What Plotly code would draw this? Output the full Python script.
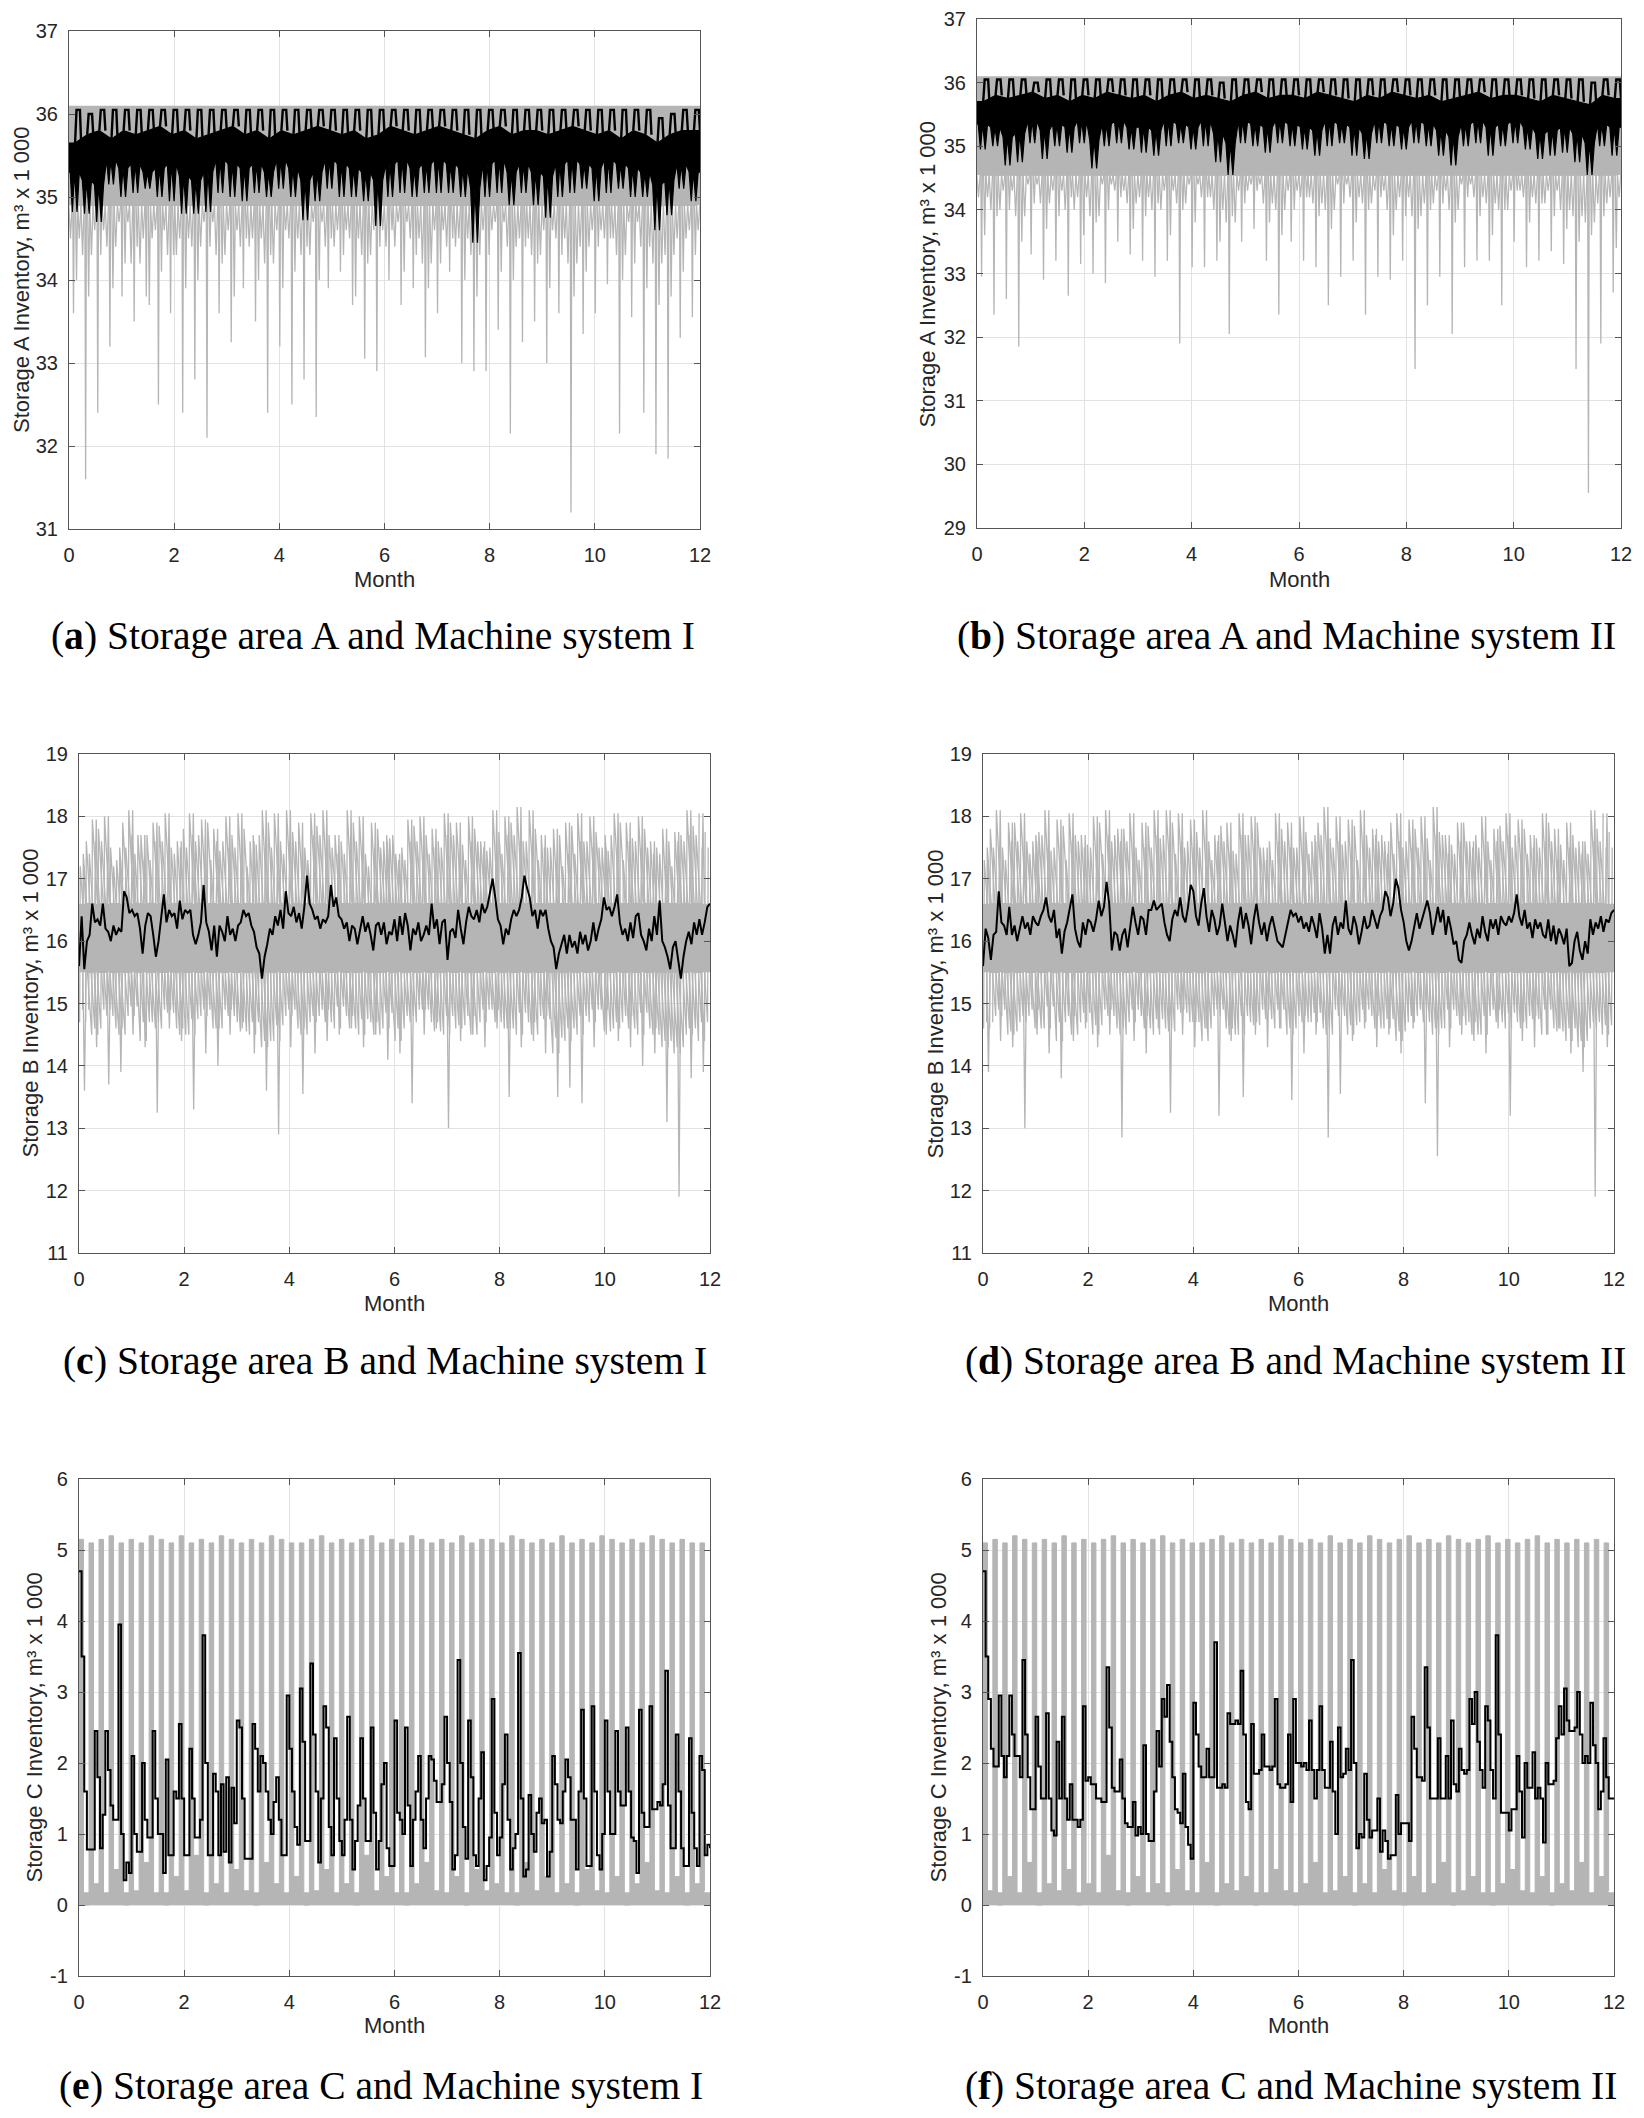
import numpy as np
import plotly.graph_objects as go

W, H = 1644, 2118
OFF = 8  # default page margin of the html body

# ------------------------------------------------------------------ data
month_ticks = [0, 2, 4, 6, 8, 10, 12]
yticks_a = [31, 32, 33, 34, 35, 36, 37]
yticks_b = [29, 30, 31, 32, 33, 34, 35, 36, 37]
yticks_cd = [11, 12, 13, 14, 15, 16, 17, 18, 19]
yticks_ef = [-1, 0, 1, 2, 3, 4, 5, 6]
ytext_ef = ["-1", "0", "1", "2", "3", "4", "5", "6"]

# (a) Storage A / Machine system I : weekly structure of the mean run (black)
peakA = [36.05, 36.0, 36.05, 36.05, 36.05, 36.05, 36.05, 36.05, 36.05, 36.05, 36.05, 36.05, 36.05,
         36.05, 36.05, 36.05, 36.05, 36.05, 36.05, 36.05, 36.05, 36.05, 36.05, 36.05, 36.05, 36.05,
         36.05, 36.05, 36.05, 36.05, 36.05, 36.05, 36.05, 36.05, 36.05, 36.05, 36.05, 36.05, 36.05,
         36.05, 36.05, 36.05, 36.05, 36.05, 36.05, 36.05, 36.05, 36.05, 35.95, 36.0, 36.05, 36.05]
hiA = [35.65, 35.75, 35.8, 35.7, 35.8, 35.75, 35.8, 35.85, 35.75, 35.8, 35.7, 35.75, 35.8, 35.85,
       35.75, 35.8, 35.7, 35.8, 35.75, 35.8, 35.85, 35.8, 35.75, 35.8, 35.7, 35.75, 35.85, 35.8,
       35.75, 35.8, 35.85, 35.8, 35.75, 35.7, 35.8, 35.85, 35.75, 35.8, 35.8, 35.75, 35.8, 35.85,
       35.8, 35.75, 35.8, 35.7, 35.8, 35.75, 35.65, 35.75, 35.8, 35.8]
midA = [35.3, 35.2, 35.15, 35.45, 35.35, 35.4, 35.3, 35.35, 35.4, 35.25, 35.2, 35.3, 35.45, 35.4,
        35.35, 35.4, 35.3, 35.45, 35.35, 35.2, 35.3, 35.45, 35.4, 35.35, 35.3, 35.2, 35.4, 35.45,
        35.35, 35.4, 35.45, 35.4, 35.35, 35.1, 35.4, 35.45, 35.3, 35.4, 35.3, 35.25, 35.4, 35.45,
        35.4, 35.35, 35.45, 35.4, 35.35, 35.3, 35.15, 35.2, 35.4, 35.3]
troughA = [34.82, 34.8, 34.7, 35.15, 35.0, 35.05, 35.1, 35.0, 34.95, 34.8, 34.8, 34.82, 35.05, 35.0,
           34.95, 35.05, 35.0, 35.1, 35.0, 34.72, 34.95, 35.1, 35.0, 35.0, 34.95, 34.65, 35.0, 35.05,
           35.0, 35.05, 35.05, 35.05, 35.0, 34.45, 35.0, 35.05, 34.9, 35.05, 34.9, 34.75, 35.0, 35.05,
           35.1, 34.95, 35.05, 35.1, 35.0, 35.0, 34.6, 34.78, 35.1, 34.95]
# (a) simulated runs (grey): dense band and weekly downward spikes
bandA = [34.9, 36.1]
spikeA1 = [33.6, 31.6, 32.4, 33.2, 33.8, 33.5, 33.8, 32.5, 33.6, 32.4, 32.8, 32.1, 33.6, 33.25,
           33.9, 33.5, 32.4, 33.2, 32.5, 32.8, 32.35, 33.9, 34.1, 33.7, 33.05, 32.9, 34.0, 33.7,
           33.9, 33.07, 33.6, 34.1, 33.0, 32.9, 32.9, 33.4, 32.15, 33.25, 33.5, 33.0, 33.6, 31.2,
           33.35, 33.6, 33.95, 32.15, 33.55, 32.4, 31.9, 31.85, 33.3, 33.55]
spikeA2 = [34.0, 33.8, 34.3, 33.9, 34.2, 34.4, 33.7, 34.1, 34.3, 33.9, 34.0, 34.4, 34.2, 33.8, 34.5,
           34.0, 34.3, 33.9, 34.1, 34.4, 34.0, 34.5, 34.3, 33.8, 34.2, 34.4, 34.6, 34.1, 34.3, 33.9,
           34.2, 34.5, 34.0, 33.8, 34.3, 34.1, 34.0, 34.4, 34.2, 33.9, 34.3, 33.8, 34.1, 34.4, 34.5,
           34.0, 34.2, 33.9, 33.7, 33.8, 34.1, 34.3]
spikeA3 = [34.5, 34.3, 34.6, 34.4, 34.7, 34.2, 34.5, 34.6, 34.3, 34.5, 34.4, 34.7, 34.3, 34.6, 34.4,
           34.5, 34.2, 34.6, 34.5, 34.3, 34.7, 34.4, 34.6, 34.5, 34.3, 34.6, 34.4, 34.7, 34.5, 34.2,
           34.6, 34.4, 34.5, 34.3, 34.6, 34.7, 34.4, 34.5, 34.3, 34.6, 34.5, 34.2, 34.4, 34.6, 34.5,
           34.3, 34.7, 34.4, 34.2, 34.3, 34.5, 34.6]

# (b) Storage A / Machine system II
peakB = [36.05, 36.05, 36.05, 36.05, 36.0, 36.05, 36.05, 36.05, 36.05, 36.05, 36.05, 36.05, 36.05,
         36.05, 36.05, 36.05, 36.05, 36.05, 36.05, 36.0, 36.05, 36.05, 36.05, 36.05, 36.05, 36.05,
         36.05, 36.05, 36.05, 36.05, 36.05, 36.05, 36.05, 36.05, 36.05, 36.05, 36.05, 36.05, 36.05,
         36.05, 36.05, 36.05, 36.05, 36.05, 36.05, 36.05, 36.05, 36.05, 36.05, 36.0, 36.05, 36.05]
hiB = [35.7, 35.8, 35.75, 35.8, 35.85, 35.75, 35.8, 35.7, 35.8, 35.75, 35.85, 35.8, 35.75, 35.8,
       35.7, 35.8, 35.85, 35.75, 35.8, 35.75, 35.7, 35.8, 35.85, 35.75, 35.8, 35.8, 35.75, 35.85,
       35.8, 35.75, 35.7, 35.8, 35.75, 35.85, 35.8, 35.75, 35.8, 35.7, 35.75, 35.8, 35.85, 35.75,
       35.8, 35.8, 35.75, 35.7, 35.8, 35.75, 35.7, 35.65, 35.8, 35.75]
midB = [35.35, 35.3, 35.15, 35.2, 35.4, 35.25, 35.35, 35.3, 35.4, 35.1, 35.35, 35.4, 35.3, 35.3,
        35.25, 35.4, 35.35, 35.3, 35.4, 35.2, 35.05, 35.4, 35.35, 35.3, 35.4, 35.35, 35.3, 35.25,
        35.4, 35.35, 35.3, 35.2, 35.4, 35.35, 35.3, 35.4, 35.35, 35.25, 35.15, 35.35, 35.4, 35.3,
        35.35, 35.4, 35.3, 35.2, 35.25, 35.3, 35.2, 35.05, 35.35, 35.3]
troughB = [34.95, 35.0, 34.7, 34.75, 35.05, 34.8, 35.0, 34.9, 35.05, 34.65, 35.0, 35.05, 34.95, 34.9,
           34.85, 35.0, 35.05, 34.95, 35.0, 34.75, 34.55, 35.05, 35.0, 34.9, 35.05, 35.0, 34.95, 34.85,
           35.0, 35.05, 34.85, 34.8, 35.05, 35.0, 34.95, 35.05, 35.0, 34.85, 34.7, 35.0, 35.05, 34.85,
           35.0, 35.05, 34.95, 34.8, 34.85, 34.9, 34.75, 34.55, 35.0, 34.85]
bandB = [34.55, 36.1]
spikeB1 = [32.95, 32.35, 32.6, 31.85, 33.3, 32.9, 33.2, 32.65, 33.15, 33.0, 32.85, 33.5, 33.3, 33.2,
           32.95, 33.2, 31.9, 33.1, 33.1, 33.2, 32.05, 33.5, 33.7, 33.2, 32.35, 33.5, 33.2, 33.1,
           32.5, 32.95, 33.2, 32.35, 32.95, 32.9, 33.2, 31.5, 32.5, 32.95, 32.05, 33.1, 33.2, 33.2,
           32.5, 33.5, 33.1, 33.2, 33.35, 33.15, 31.5, 29.55, 31.9, 32.7]
spikeB2 = [33.6, 33.9, 34.0, 33.5, 34.1, 33.7, 33.9, 34.2, 33.6, 33.8, 34.0, 34.2, 33.7, 33.9, 34.1,
           33.6, 34.0, 33.8, 34.2, 33.5, 33.9, 34.1, 34.3, 33.8, 33.6, 34.0, 34.2, 33.9, 33.7, 34.1,
           33.8, 34.0, 34.2, 33.6, 33.9, 33.7, 34.0, 34.1, 33.8, 34.2, 33.9, 33.6, 34.0, 34.3, 33.8,
           34.1, 33.9, 33.7, 33.5, 33.6, 33.9, 33.4]
spikeB3 = [34.2, 34.0, 34.3, 33.9, 34.4, 34.1, 34.3, 34.0, 34.2, 33.9, 34.4, 34.3, 34.1, 34.2, 34.0,
           34.3, 34.1, 34.4, 34.2, 34.0, 33.8, 34.3, 34.4, 34.1, 34.0, 34.3, 34.2, 34.1, 34.0, 34.4,
           34.2, 34.1, 34.3, 34.0, 34.2, 33.9, 34.1, 34.3, 34.0, 34.4, 34.2, 34.1, 34.0, 34.3, 34.2,
           34.1, 34.3, 34.0, 33.9, 33.8, 34.1, 34.2]

# (c) Storage B / Machine system I  (black = mean run, sampled every 0.05 month)
blackC = [15.6, 16.4, 15.55, 16.0, 16.1, 16.6, 16.3, 16.35, 16.25, 16.6, 16.2, 16.15, 16.0, 16.25,
          16.1, 16.2, 16.15, 16.8, 16.7, 16.45, 16.5, 16.4, 16.45, 16.2, 15.8, 16.25, 16.45, 16.4,
          16.1, 15.75, 16.0, 16.35, 16.75, 16.3, 16.5, 16.4, 16.45, 16.2, 16.65, 16.35, 16.5, 16.45,
          16.5, 16.1, 15.95, 16.1, 16.3, 16.9, 16.3, 16.15, 15.85, 16.25, 15.75, 16.25, 16.15, 16.0,
          16.4, 16.1, 16.2, 16.0, 16.25, 16.3, 16.5, 16.4, 16.45, 16.25, 16.15, 15.9, 15.8, 15.4,
          15.75, 15.95, 16.2, 16.1, 16.4, 16.25, 16.5, 16.2, 16.8, 16.45, 16.4, 16.55, 16.3, 16.45,
          16.2, 16.55, 17.05, 16.6, 16.5, 16.35, 16.4, 16.2, 16.35, 16.3, 16.4, 16.9, 16.55, 16.7,
          16.4, 16.35, 16.2, 16.3, 16.0, 16.25, 16.2, 15.95, 16.2, 16.4, 16.15, 16.3, 16.1, 15.85,
          16.25, 16.3, 16.1, 16.3, 15.95, 16.15, 16.1, 16.35, 16.0, 16.4, 16.1, 16.45, 16.25, 15.85,
          16.2, 16.1, 16.3, 16.0, 16.1, 16.25, 16.1, 16.6, 16.2, 16.35, 15.95, 16.3, 16.35, 15.7,
          16.15, 16.2, 16.05, 16.5, 16.2, 15.95, 16.3, 16.55, 16.4, 16.35, 16.5, 16.3, 16.6, 16.45,
          16.55, 16.8, 17.0, 16.7, 16.35, 16.25, 15.95, 16.2, 16.1, 16.35, 16.5, 16.4, 16.5, 16.7,
          17.05, 16.85, 16.7, 16.4, 16.5, 16.2, 16.5, 16.4, 16.5, 16.2, 16.0, 15.9, 15.55, 15.8,
          15.95, 16.1, 15.8, 16.1, 15.9, 16.0, 15.8, 16.15, 15.95, 16.1, 15.85, 16.0, 16.3, 16.0,
          16.2, 16.35, 16.7, 16.5, 16.55, 16.4, 16.55, 16.75, 16.3, 16.1, 16.2, 16.0, 16.3, 16.05,
          16.4, 16.45, 16.1, 16.0, 15.85, 16.2, 16.0, 16.4, 16.1, 16.65, 16.0, 15.9, 15.75, 15.55,
          15.9, 16.0, 15.7, 15.4, 15.75, 16.0, 16.15, 15.95, 16.3, 16.1, 16.35, 16.1, 16.3, 16.55, 16.6]
bandC = [15.5, 16.6]
upC1 = [17.2, 17.95, 18.0, 17.3, 18.1, 17.7, 17.9, 18.05, 17.6, 18.05, 17.95, 17.8, 18.0, 18.05,
        17.6, 18.1, 18.05, 18.1, 17.9, 18.05, 18.1, 17.7, 18.1, 18.0, 17.9, 17.6, 17.4, 17.95, 18.0,
        17.8, 18.05, 17.9, 18.0, 17.6, 18.1, 18.0, 18.15, 18.1, 17.7, 17.8, 17.9, 18.05, 18.0, 17.5,
        18.05, 17.9, 18.0, 17.6, 17.8, 17.75, 18.1, 18.05]
upC2 = [17.4, 17.6, 17.2, 17.5, 17.7, 17.3, 17.6, 17.4, 17.5, 17.7, 17.3, 17.6, 17.5, 17.2, 17.7,
        17.5, 17.4, 17.6, 17.3, 17.7, 17.5, 17.4, 17.6, 17.2, 17.5, 17.7, 17.3, 17.6, 17.4, 17.5,
        17.7, 17.3, 17.6, 17.5, 17.4, 17.7, 17.6, 17.3, 17.5, 17.2, 17.4, 17.6, 17.5, 17.7, 17.3,
        17.6, 17.5, 17.4, 17.2, 17.6, 17.7, 17.5]
upC3 = [17.6, 17.8, 17.5, 17.9, 17.4, 17.7, 17.85, 17.5, 17.8, 17.6, 17.9, 17.45, 17.7, 17.8, 17.55,
        17.9, 17.6, 17.75, 17.5, 17.85, 17.7, 17.6, 17.9, 17.4, 17.8, 17.65, 17.5, 17.85, 17.7, 17.6,
        17.9, 17.55, 17.8, 17.45, 17.75, 17.9, 17.6, 17.8, 17.5, 17.7, 17.85, 17.6, 17.75, 17.45,
        17.9, 17.65, 17.8, 17.5, 17.6, 17.7, 17.85, 17.75]
dnC1 = [13.6, 14.3, 13.7, 13.9, 14.5, 14.3, 13.25, 14.6, 14.4, 13.3, 14.2, 14.0, 14.5, 14.6, 14.2,
        13.6, 12.9, 14.3, 13.55, 14.2, 14.4, 14.5, 14.6, 14.3, 14.5, 14.1, 14.2, 13.4, 14.5, 14.6,
        13.0, 14.4, 14.5, 14.3, 14.6, 13.5, 14.3, 14.4, 14.2, 13.5, 13.65, 13.4, 14.3, 14.5, 14.4,
        14.3, 14.0, 14.2, 13.1, 11.9, 13.8, 13.9]
dnC2 = [14.7, 14.5, 14.9, 14.6, 14.8, 14.4, 14.7, 14.9, 14.6, 14.5, 14.8, 14.6, 14.9, 14.7, 14.5,
        14.3, 14.4, 14.8, 14.6, 14.7, 14.9, 14.6, 14.8, 14.5, 14.7, 14.6, 14.4, 14.8, 14.9, 14.7,
        14.5, 14.6, 14.8, 14.7, 14.9, 14.6, 14.5, 14.7, 14.8, 14.2, 14.4, 14.5, 14.7, 14.9, 14.6,
        14.8, 14.5, 14.6, 14.3, 14.2, 14.5, 14.4]
dnC3 = [14.9, 14.6, 14.8, 14.5, 14.95, 14.7, 14.6, 14.85, 14.5, 14.75, 14.9, 14.6, 14.8, 14.55, 14.7,
        14.4, 14.65, 14.9, 14.5, 14.8, 14.7, 14.95, 14.6, 14.75, 14.5, 14.85, 14.6, 14.7, 14.9, 14.55,
        14.8, 14.65, 14.5, 14.9, 14.7, 14.6, 14.85, 14.5, 14.75, 14.45, 14.6, 14.8, 14.9, 14.55, 14.7,
        14.6, 14.85, 14.5, 14.4, 14.3, 14.6, 14.7]

# (d) Storage B / Machine system II
blackD = [15.6, 16.2, 16.05, 15.7, 16.1, 16.15, 16.8, 16.3, 16.25, 16.1, 16.55, 16.1, 16.25, 16.0,
          16.2, 16.4, 16.2, 16.3, 16.1, 16.4, 16.3, 16.25, 16.4, 16.5, 16.7, 16.4, 16.3, 16.5, 16.05,
          16.2, 15.8, 16.15, 16.3, 16.5, 16.75, 16.2, 16.0, 15.9, 16.3, 16.1, 16.35, 16.3, 16.15,
          16.35, 16.65, 16.4, 16.55, 16.95, 16.6, 15.85, 16.15, 16.1, 15.85, 16.1, 16.2, 15.9, 16.2,
          16.55, 16.3, 16.1, 16.4, 16.35, 16.1, 16.5, 16.5, 16.65, 16.5, 16.55, 16.6, 16.3, 16.1,
          16.0, 16.35, 16.5, 16.4, 16.7, 16.4, 16.3, 16.55, 16.9, 16.8, 16.4, 16.25, 16.6, 16.85,
          16.4, 16.15, 16.5, 16.35, 16.1, 16.25, 16.6, 16.3, 16.0, 16.25, 16.1, 15.9, 16.3, 16.55,
          16.2, 16.45, 16.25, 15.95, 16.35, 16.6, 16.3, 16.1, 16.3, 16.0, 16.25, 16.4, 16.2, 16.0,
          15.95, 15.9, 16.1, 16.3, 16.5, 16.4, 16.45, 16.3, 16.4, 16.2, 16.3, 16.15, 16.4, 16.25,
          16.05, 16.45, 16.2, 15.8, 16.1, 15.8, 16.25, 16.4, 16.1, 16.3, 16.2, 16.65, 16.2, 16.1,
          16.4, 16.25, 15.95, 16.15, 16.4, 16.2, 16.25, 16.5, 16.35, 16.2, 16.4, 16.5, 16.8, 16.7,
          16.4, 16.6, 17.0, 16.85, 16.5, 16.3, 16.0, 15.85, 16.0, 16.2, 16.45, 16.2, 16.35, 16.5,
          16.65, 16.45, 16.1, 16.3, 16.55, 16.3, 16.5, 16.1, 16.4, 16.2, 15.95, 16.0, 15.7, 15.65,
          16.0, 16.1, 16.3, 16.1, 15.95, 16.2, 16.05, 16.4, 16.15, 16.0, 16.35, 16.2, 16.35, 16.1,
          16.4, 16.3, 16.25, 16.4, 16.3, 16.45, 16.75, 16.4, 16.25, 16.5, 16.2, 16.3, 16.05, 16.35,
          16.2, 16.3, 16.1, 16.05, 16.35, 16.0, 16.25, 15.95, 16.2, 16.1, 15.95, 16.2, 15.6, 15.65,
          16.0, 16.15, 15.85, 15.7, 16.0, 15.8, 16.35, 16.1, 16.3, 16.2, 16.4, 16.15, 16.35, 16.3,
          16.45, 16.5]
bandD = [15.5, 16.6]
upD1 = [17.3, 18.1, 17.9, 18.05, 17.6, 18.1, 17.95, 18.05, 17.7, 18.0, 18.1, 17.8, 18.05, 17.9,
        18.1, 18.1, 18.05, 17.95, 18.1, 17.7, 17.9, 18.05, 18.0, 17.5, 18.05, 17.9, 18.0, 17.6,
        18.15, 18.0, 17.95, 18.1, 17.8, 17.6, 18.05, 17.95, 18.0, 18.15, 17.7, 17.9, 17.6, 18.0,
        17.8, 18.05, 17.95, 17.7, 18.05, 17.8, 17.9, 17.6, 18.1, 18.05]
upD2 = [17.5, 17.3, 17.6, 17.4, 17.7, 17.5, 17.3, 17.6, 17.5, 17.4, 17.7, 17.6, 17.3, 17.5, 17.7,
        17.4, 17.6, 17.5, 17.3, 17.6, 17.4, 17.7, 17.5, 17.3, 17.6, 17.5, 17.4, 17.7, 17.5, 17.6,
        17.3, 17.5, 17.7, 17.4, 17.6, 17.5, 17.3, 17.7, 17.4, 17.6, 17.5, 17.3, 17.6, 17.7, 17.4,
        17.5, 17.6, 17.3, 17.5, 17.4, 17.6, 17.5]
upD3 = [17.8, 17.5, 17.9, 17.6, 17.75, 17.45, 17.85, 17.7, 17.55, 17.9, 17.6, 17.8, 17.5, 17.85,
        17.65, 17.9, 17.5, 17.75, 17.6, 17.85, 17.45, 17.7, 17.9, 17.6, 17.8, 17.5, 17.75, 17.9,
        17.65, 17.55, 17.85, 17.7, 17.6, 17.9, 17.5, 17.8, 17.65, 17.75, 17.55, 17.9, 17.7, 17.6,
        17.85, 17.5, 17.8, 17.65, 17.9, 17.55, 17.7, 17.6, 17.8, 17.75]
dnD1 = [13.9, 14.4, 14.3, 13.0, 14.5, 14.2, 13.8, 14.4, 14.6, 14.3, 14.5, 12.85, 14.4, 14.2, 14.6,
        13.25, 14.5, 14.3, 14.6, 13.2, 14.4, 13.5, 14.5, 14.3, 14.6, 13.45, 14.2, 14.5, 12.85, 13.55,
        14.4, 14.6, 14.3, 14.5, 14.2, 14.6, 13.4, 12.55, 14.3, 14.5, 14.4, 14.2, 14.6, 13.2, 14.4,
        14.3, 14.5, 14.6, 14.2, 13.9, 11.9, 14.3]
dnD2 = [14.6, 14.8, 14.5, 14.7, 14.9, 14.6, 14.4, 14.8, 14.7, 14.5, 14.9, 14.6, 14.7, 14.8, 14.5,
        14.6, 14.9, 14.7, 14.4, 14.8, 14.6, 14.5, 14.7, 14.9, 14.6, 14.5, 14.8, 14.7, 14.6, 14.9,
        14.5, 14.7, 14.8, 14.6, 14.4, 14.7, 14.9, 14.5, 14.6, 14.8, 14.7, 14.5, 14.9, 14.6, 14.7,
        14.8, 14.5, 14.6, 14.4, 14.3, 14.6, 14.5]
dnD3 = [14.7, 14.9, 14.55, 14.8, 14.6, 14.95, 14.7, 14.5, 14.85, 14.65, 14.8, 14.5, 14.9, 14.6, 14.75,
        14.55, 14.85, 14.7, 14.6, 14.9, 14.5, 14.8, 14.65, 14.75, 14.9, 14.6, 14.7, 14.85, 14.5, 14.8,
        14.65, 14.9, 14.6, 14.75, 14.55, 14.8, 14.7, 14.6, 14.9, 14.65, 14.5, 14.8, 14.7, 14.85, 14.6,
        14.75, 14.9, 14.55, 14.6, 14.4, 14.7, 14.65]

# (e) Storage C / Machine system I  (black sampled every 0.05 month)
blackE = [4.7, 3.5, 1.6, 0.78, 0.78, 0.78, 2.45, 1.8, 0.8, 1.27, 2.45, 1.9, 1.4, 1.2, 1.2, 3.95,
          1.0, 0.35, 0.6, 0.45, 2.1, 1.0, 0.75, 0.75, 2.0, 1.2, 0.95, 0.95, 2.45, 1.5, 1.0, 1.0,
          0.45, 2.05, 0.7, 0.7, 1.6, 1.5, 2.55, 1.5, 0.7, 0.7, 2.2, 1.5, 0.95, 0.95, 1.2, 3.8, 2.0,
          0.7, 0.7, 1.85, 1.6, 0.7, 1.7, 0.75, 1.8, 0.6, 1.65, 1.15, 2.6, 2.5, 1.5, 0.65, 0.65,
          0.65, 2.55, 2.2, 1.6, 2.1, 2.0, 1.6, 1.2, 1.0, 1.45, 1.8, 1.2, 0.7, 0.7, 2.95, 2.2, 1.6,
          1.1, 0.85, 3.05, 2.3, 0.9, 0.9, 3.4, 2.4, 1.6, 0.6, 1.5, 2.8, 2.5, 1.1, 0.7, 2.35, 1.5,
          0.9, 0.7, 1.2, 2.65, 1.2, 0.5, 0.9, 1.4, 2.35, 1.5, 0.9, 0.9, 2.5, 1.3, 0.5, 0.9, 1.7,
          2.0, 0.8, 0.55, 0.55, 2.6, 1.3, 1.2, 1.0, 2.5, 1.4, 0.55, 1.2, 1.6, 2.1, 1.2, 0.8, 1.5,
          2.1, 2.05, 1.75, 1.45, 1.45, 1.7, 2.65, 2.0, 1.45, 0.5, 0.7, 3.45, 2.0, 1.1, 0.65, 2.6,
          1.8, 0.7, 0.55, 1.5, 2.15, 0.35, 0.55, 0.95, 2.9, 1.3, 0.7, 0.95, 1.7, 2.4, 1.2, 0.5,
          0.8, 1.0, 3.55, 1.5, 0.4, 0.5, 1.55, 1.0, 0.75, 1.3, 1.5, 1.15, 1.2, 0.4, 0.75, 2.1, 1.7,
          1.2, 1.15, 1.6, 2.05, 1.8, 1.2, 1.2, 0.5, 1.6, 2.75, 1.5, 0.55, 0.55, 2.8, 1.6, 0.7, 0.5,
          1.0, 2.6, 1.6, 1.0, 1.0, 2.45, 1.6, 1.4, 1.4, 2.5, 1.6, 0.95, 0.9, 0.45, 2.75, 1.3, 1.1,
          1.1, 2.8, 1.35, 1.35, 1.45, 1.4, 1.7, 3.3, 1.4, 0.8, 0.8, 2.4, 1.6, 0.8, 0.55, 0.55, 2.35,
          1.3, 0.8, 0.55, 2.1, 1.9, 0.7, 0.85, 0.8]
bandE = [0.0, 0.18]
hiE = [5.15, 5.1, 5.15, 5.2, 5.1, 5.15, 5.1, 5.2, 5.15, 5.1, 5.2, 5.1, 5.15, 5.1, 5.2, 5.15, 5.1,
       5.15, 5.1, 5.2, 5.15, 5.1, 5.1, 5.15, 5.2, 5.1, 5.15, 5.1, 5.15, 5.2, 5.1, 5.15, 5.1, 5.2,
       5.15, 5.1, 5.15, 5.1, 5.2, 5.1, 5.15, 5.15, 5.1, 5.2, 5.15, 5.1, 5.15, 5.1, 5.2, 5.1, 5.15,
       5.1, 5.2, 5.15, 5.1, 5.15, 5.1, 5.2, 5.15, 5.1, 5.15, 5.1, 5.1]
loE = [0.0, 0.3, 0.1, 0.5, 0.0, 0.2, 0.6, 0.1, 0.0, 0.4, 0.2, 0.7, 0.0, 0.3, 0.1, 0.5, 0.2, 0.0,
       0.6, 0.3, 0.1, 0.4, 0.0, 0.2, 0.5, 0.1, 0.3, 0.0, 0.7, 0.2, 0.4, 0.1, 0.0, 0.3, 0.6, 0.2,
       0.1, 0.4, 0.0, 0.5, 0.2, 0.3, 0.1, 0.0, 0.6, 0.2, 0.4, 0.1, 0.3, 0.0, 0.5, 0.2, 0.1, 0.4,
       0.0, 0.3, 0.6, 0.2, 0.1, 0.4, 0.0, 0.3, 0.2]

# (f) Storage C / Machine system II
blackF = [4.7, 3.5, 2.9, 2.2, 1.95, 1.95, 2.95, 2.1, 1.8, 2.1, 2.95, 2.4, 2.1, 2.1, 1.8, 3.45, 2.4,
          1.8, 1.35, 1.35, 2.65, 1.95, 1.5, 1.5, 2.7, 1.5, 1.05, 0.98, 2.3, 1.5, 2.65, 1.5, 1.2, 1.7,
          1.2, 1.2, 1.1, 1.2, 2.8, 1.75, 1.8, 1.7, 1.7, 1.5, 1.5, 1.45, 1.45, 3.35, 2.5, 1.65, 1.6,
          1.6, 2.05, 1.5, 1.15, 1.1, 1.1, 1.45, 0.98, 1.1, 1.0, 2.25, 1.0, 0.9, 0.9, 1.6, 2.45,
          1.95, 2.9, 2.65, 3.1, 2.3, 1.8, 1.35, 1.3, 1.15, 1.85, 1.1, 0.85, 0.65, 2.85, 2.4, 1.95,
          1.8, 1.8, 2.2, 1.8, 1.8, 3.7, 1.65, 1.65, 1.7, 1.65, 2.7, 2.55, 2.55, 2.6, 2.55, 3.3, 2.4,
          1.45, 1.35, 2.55, 1.85, 1.85, 1.9, 2.4, 1.95, 1.95, 1.9, 1.95, 2.9, 1.7, 1.65, 1.65, 1.7,
          2.4, 1.45, 2.9, 2.0, 2.0, 1.95, 2.0, 1.9, 2.6, 1.9, 1.5, 1.9, 2.8, 1.9, 1.65, 1.65, 2.3,
          1.6, 1.0, 2.5, 1.8, 1.85, 2.2, 1.9, 3.45, 2.0, 0.8, 1.0, 0.95, 1.85, 1.2, 0.95, 1.05,
          1.05, 1.5, 0.75, 1.05, 0.9, 0.65, 0.7, 0.7, 1.55, 1.0, 1.15, 1.15, 1.15, 0.9, 2.65, 2.2,
          1.8, 1.8, 1.75, 3.35, 2.5, 1.5, 1.5, 1.5, 2.35, 1.5, 1.5, 2.1, 1.5, 2.6, 1.7, 1.6, 2.2,
          1.9, 1.85, 1.9, 2.9, 2.55, 3.0, 2.3, 1.9, 1.65, 2.8, 2.6, 1.9, 1.5, 3.8, 2.4, 1.3, 1.3,
          1.3, 1.05, 1.35, 1.35, 2.1, 1.6, 0.95, 2.0, 1.65, 1.65, 2.15, 1.5, 1.65, 1.5, 0.88, 2.0,
          1.7, 1.7, 1.75, 2.35, 2.8, 2.4, 3.05, 2.6, 2.45, 2.45, 2.5, 3.0, 2.4, 2.0, 2.1, 2.0, 2.85,
          2.25, 2.0, 1.35, 1.6, 2.35, 1.8, 1.5, 1.5, 1.5]
bandF = [0.0, 0.18]
hiF = [5.1, 5.15, 5.1, 5.2, 5.15, 5.1, 5.15, 5.1, 5.2, 5.1, 5.15, 5.1, 5.15, 5.2, 5.1, 5.15, 5.1,
       5.15, 5.2, 5.1, 5.15, 5.1, 5.1, 5.15, 5.2, 5.1, 5.15, 5.1, 5.15, 5.1, 5.2, 5.15, 5.1, 5.15,
       5.1, 5.2, 5.1, 5.15, 5.1, 5.2, 5.15, 5.1, 5.15, 5.2, 5.1, 5.15, 5.1, 5.2, 5.15, 5.1, 5.15,
       5.2, 5.1, 5.15, 5.1, 5.15, 5.2, 5.1, 5.15, 5.1, 5.15, 5.1, 5.15, 5.1]
loF = [0.2, 0.0, 0.4, 0.1, 0.6, 0.0, 0.3, 0.2, 0.5, 0.0, 0.3, 0.1, 0.7, 0.2, 0.0, 0.4, 0.1, 0.3,
       0.0, 0.5, 0.2, 0.1, 0.6, 0.0, 0.3, 0.2, 0.4, 0.0, 0.1, 0.5, 0.2, 0.0, 0.3, 0.6, 0.1, 0.2,
       0.4, 0.0, 0.3, 0.1, 0.5, 0.2, 0.0, 0.4, 0.1, 0.3, 0.6, 0.0, 0.2, 0.4, 0.1, 0.0, 0.3, 0.5,
       0.2, 0.1, 0.4, 0.0, 0.3, 0.2, 0.6, 0.1, 0.4, 0.2]

# captions: (letter, rest of text)
captions = [("a", ") Storage area A and Machine system I"),
            ("b", ") Storage area A and Machine system II"),
            ("c", ") Storage area B and Machine system I"),
            ("d", ") Storage area B and Machine system II"),
            ("e", ") Storage area C and Machine system I"),
            ("f", ") Storage area C and Machine system II")]
ytitles = ["Storage A Inventory, m³ x 1 000", "Storage A Inventory, m³ x 1 000",
           "Storage B Inventory, m³ x 1 000", "Storage B Inventory, m³ x 1 000",
           "Storage C Inventory, m³ x 1 000", "Storage C Inventory, m³ x 1 000"]

# ------------------------------------------------------------------ styling
GREY = "#b5b5b5"
BLACK = "#000000"
FRAME = "#555555"
TXT = "#262626"
GRID = "#e2e2e2"
SANS = "Liberation Sans, Arial, sans-serif"
SERIF = "Liberation Serif, Times New Roman, serif"

fig = go.Figure()


def black_fill(mid, hi, trough):
    """polygon of the dense part of the mean run: upper edge hi, ragged lower edge"""
    n = len(mid)
    wk = 12.0 / n
    tx, ty = [0.0], [hi[0]]
    bx, by = [0.0], [mid[0]]
    for i in range(n):
        tx += [(i + 0.5) * wk]
        ty += [hi[i]]
        bx += [(i + 0.1) * wk, (i + 0.28) * wk, (i + 0.45) * wk, (i + 0.66) * wk, (i + 0.85) * wk]
        by += [mid[i], trough[i], mid[i], trough[i], mid[i]]
    tx.append(12.0)
    ty.append(hi[-1])
    bx.append(12.0)
    by.append(mid[-1])
    return tx + bx[::-1] + [tx[0]], ty + by[::-1] + [ty[0]]


def arches(hi, peak):
    n = len(hi)
    wk = 12.0 / n
    xs, ys = [], []
    for i, (h, p) in enumerate(zip(hi, peak)):
        xs += [(i + 0.5) * wk, (i + 0.62) * wk, (i + 0.9) * wk, (i + 1.0) * wk, None]
        ys += [h, p, p, h, None]
    return xs, ys


def spikes(vals, base, phase, half):
    n = len(vals)
    wk = 12.0 / n
    xs, ys = [], []
    for i, v in enumerate(vals):
        c = (i + phase) * wk
        xs += [c - half, c, c + half]
        ys += [base, v, base]
    return xs, ys


def saw(his, los, phase):
    n = len(his)
    wk = 12.0 / n
    xs, ys = [], []
    for i, (h, l) in enumerate(zip(his, los)):
        c = (i + phase) * wk
        xs += [c, c + 0.012]
        ys += [l, h]
    return xs, ys


def bars(his, los, width, offset):
    n = len(his)
    st = 12.0 / n
    xs, ys = [], []
    for i, (h, l) in enumerate(zip(his, los)):
        s = i * st + offset
        xs += [s, s + width]
        ys += [h, l]
    return xs, ys


def add(tr, k):
    ax = "" if k == 1 else str(k)
    tr.update(xaxis="x" + ax, yaxis="y" + ax, showlegend=False, hoverinfo="skip")
    fig.add_trace(tr)


def band(b, k):
    add(go.Scatter(x=[0, 12, 12, 0, 0], y=[b[0], b[0], b[1], b[1], b[0]], mode="lines",
                   fill="toself", fillcolor=GREY, line=dict(width=0, color=GREY)), k)


def line(x, y, k, color, width, shape="linear"):
    add(go.Scatter(x=x, y=y, mode="lines", line=dict(color=color, width=width, shape=shape),
                   connectgaps=False), k)


def black_band(mid, hi, trough, peak, k):
    fx, fy = black_fill(mid, hi, trough)
    add(go.Scatter(x=fx, y=fy, mode="lines", fill="toself", fillcolor=BLACK,
                   line=dict(color=BLACK, width=1.2)), k)
    line(*arches(hi, peak), k, BLACK, 2.4)


# (a)
band(bandA, 1)
line(*spikes(spikeA3, bandA[0], 0.12, 0.03), 1, GREY, 1.3)
line(*spikes(spikeA2, bandA[0], 0.62, 0.02), 1, GREY, 1.3)
line(*spikes(spikeA3, bandA[0], 0.85, 0.03), 1, GREY, 1.3)
line(*spikes(spikeA1, bandA[0], 0.37, 0.014), 1, GREY, 1.3)
black_band(midA, hiA, troughA, peakA, 1)
# (b)
band(bandB, 2)
line(*spikes(spikeB3, bandB[0], 0.12, 0.03), 2, GREY, 1.3)
line(*spikes(spikeB2, bandB[0], 0.62, 0.02), 2, GREY, 1.3)
line(*spikes(spikeB3, bandB[0], 0.85, 0.03), 2, GREY, 1.3)
line(*spikes(spikeB1, bandB[0], 0.37, 0.014), 2, GREY, 1.3)
black_band(midB, hiB, troughB, peakB, 2)
# (c)
band(bandC, 3)
line(*saw(upC1, dnC2, 0.05), 3, GREY, 1.3)
line(*saw(upC2, dnC3, 0.3), 3, GREY, 1.3)
line(*saw(upC3, dnC2, 0.55), 3, GREY, 1.3)
line(*saw(upC2, dnC3, 0.8), 3, GREY, 1.3)
line(*spikes(upC1, bandC[1], 0.42, 0.025), 3, GREY, 1.3)
line(*spikes(dnC1, bandC[0], 0.45, 0.03), 3, GREY, 1.3)
line(np.linspace(0, 12, len(blackC)), blackC, 3, BLACK, 2)
# (d)
band(bandD, 4)
line(*saw(upD1, dnD2, 0.05), 4, GREY, 1.3)
line(*saw(upD2, dnD3, 0.3), 4, GREY, 1.3)
line(*saw(upD3, dnD2, 0.55), 4, GREY, 1.3)
line(*saw(upD2, dnD3, 0.8), 4, GREY, 1.3)
line(*spikes(upD1, bandD[1], 0.42, 0.025), 4, GREY, 1.3)
line(*spikes(dnD1, bandD[0], 0.45, 0.03), 4, GREY, 1.3)
line(np.linspace(0, 12, len(blackD)), blackD, 4, BLACK, 2)
# (e)
band(bandE, 5)
xe, ye = bars(hiE, loE, 0.085, 0.0)
add(go.Scatter(x=xe, y=ye, mode="lines", fill="tozeroy", fillcolor=GREY,
               line=dict(color=GREY, width=1, shape="hv")), 5)
line(np.linspace(0, 12, len(blackE)), blackE, 5, BLACK, 2, "hv")
# (f)
band(bandF, 6)
xf, yf = bars(hiF, loF, 0.085, 0.0)
add(go.Scatter(x=xf, y=yf, mode="lines", fill="tozeroy", fillcolor=GREY,
               line=dict(color=GREY, width=1, shape="hv")), 6)
line(np.linspace(0, 12, len(blackF)), blackF, 6, BLACK, 2, "hv")

# ------------------------------------------------------------------ layout (pixel geometry)
panels = [
    dict(x0=69, x1=700, y0=31, y1=529, yr=[31, 37], yt=yticks_a, ytt=None, tx=21, cl=50, cy=636, my=579),
    dict(x0=977, x1=1621, y0=19, y1=528, yr=[29, 37], yt=yticks_b, ytt=None, tx=927, cl=956, cy=636, my=579),
    dict(x0=79, x1=710, y0=754, y1=1253, yr=[11, 19], yt=yticks_cd, ytt=None, tx=30, cl=62, cy=1361, my=1303),
    dict(x0=983, x1=1614, y0=754, y1=1253, yr=[11, 19], yt=yticks_cd, ytt=None, tx=935, cl=964, cy=1361, my=1303),
    dict(x0=79, x1=710, y0=1479, y1=1976, yr=[-1, 6], yt=yticks_ef, ytt=ytext_ef, tx=34, cl=58, cy=2086, my=2025),
    dict(x0=983, x1=1614, y0=1479, y1=1976, yr=[-1, 6], yt=yticks_ef, ytt=ytext_ef, tx=938, cl=964, cy=2086, my=2025),
]
BOLDW = {"a": 0.5, "b": 0.556, "c": 0.444, "d": 0.556, "e": 0.444, "f": 0.333}
CAPS = 39.5


def px(x):
    return (x - OFF) / W


def py(y):
    return 1 - (y - OFF) / H


layout = dict(width=W, height=H, margin=dict(l=0, r=0, t=0, b=0, autoexpand=False),
              paper_bgcolor="white", plot_bgcolor="white", showlegend=False)
annotations = []
tickfont = dict(family=SANS, size=20, color=TXT)
for k, p in enumerate(panels, start=1):
    s = "" if k == 1 else str(k)
    common = dict(showline=True, linecolor=FRAME, linewidth=1.2, mirror="ticks",
                  ticks="inside", ticklen=6, tickwidth=1, tickcolor=FRAME,
                  showgrid=True, gridcolor=GRID, gridwidth=1, zeroline=False,
                  tickfont=tickfont, layer="above traces")
    layout["xaxis" + s] = dict(domain=[px(p["x0"]), px(p["x1"])], anchor="y" + s,
                               range=[0, 12], tickvals=month_ticks, ticklabelstandoff=8, **common)
    yax = dict(domain=[py(p["y1"]), py(p["y0"])], anchor="x" + s,
               range=p["yr"], tickvals=p["yt"], ticklabelstandoff=6, **common)
    if p["ytt"] is not None:
        yax["ticktext"] = p["ytt"]
    layout["yaxis" + s] = yax
    cx = (p["x0"] + p["x1"]) / 2
    annotations.append(dict(text=ytitles[k - 1], textangle=-90, x=px(p["tx"]),
                            y=py((p["y0"] + p["y1"]) / 2), xref="paper", yref="paper",
                            showarrow=False, xanchor="center", yanchor="middle",
                            font=dict(family=SANS, size=22, color=TXT)))
    annotations.append(dict(text="Month", x=px(cx), y=py(p["my"]), xref="paper",
                            yref="paper", showarrow=False, xanchor="center", yanchor="middle",
                            font=dict(family=SANS, size=22, color=TXT)))
    letter, rest = captions[k - 1]
    L = p["cl"]
    xl = L + 0.333 * CAPS
    xr = xl + BOLDW[letter] * CAPS
    cap_font = dict(family=SERIF, size=CAPS, color="black")
    annotations.append(dict(text="(", x=px(L), y=py(p["cy"]), xref="paper", yref="paper",
                            showarrow=False, xanchor="left", yanchor="middle",
                            borderpad=0, font=cap_font))
    annotations.append(dict(text=letter, x=px(xl), y=py(p["cy"]), xref="paper", yref="paper",
                            showarrow=False, xanchor="left", yanchor="middle", borderpad=0,
                            font=dict(family=SERIF, size=CAPS, color="black", weight="bold")))
    annotations.append(dict(text=rest, x=px(xr), y=py(p["cy"]), xref="paper", yref="paper",
                            showarrow=False, xanchor="left", yanchor="middle",
                            borderpad=0, font=cap_font))
layout["annotations"] = annotations
fig.update_layout(**layout)

fig.write_html("out.html")
